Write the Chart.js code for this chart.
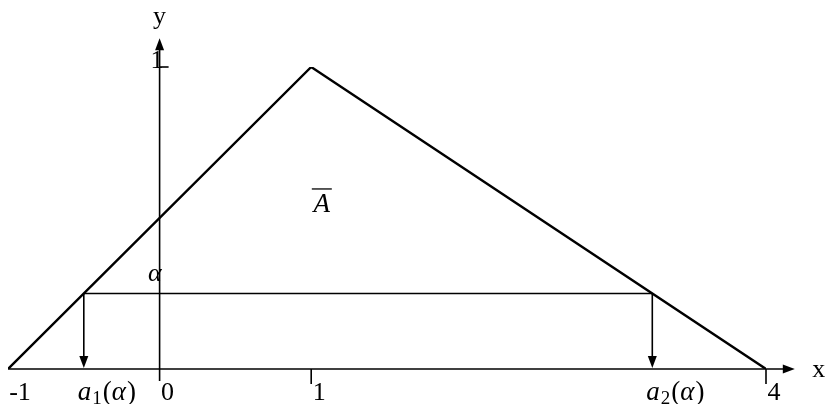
<!DOCTYPE html>
<html>
<head>
  <meta charset="utf-8">
  <title>Triangular fuzzy number and its alpha-cut</title>
  <script src="https://cdn.jsdelivr.net/npm/chart.js"></script>
  <style>
    body { margin: 0; background: #fff; }
    .chart-container { width: 825px; height: 404px; }
  </style>
</head>
<body>
  <div class="chart-container">
    <canvas id="fuzzyChart"></canvas>
  </div>

  <script>
    // ----- Membership function of A: triangle (-1,0) -> (1,1) -> (4,0) -----
    const triX = [-1, 1, 4];
    const triY = [0, 1, 0];

    // alpha level and the cut endpoints a1(alpha), a2(alpha)
    const alpha = 0.25;
    const cutX = [-0.5, 3.25];

    // tick labels on the axes
    const xTicks = [-1, 0, 1, 4];
    const xTickLabels = ["-1", "0", "1", "4"];
    const yTicks = [1];
    const yTickLabels = ["1"];

    // axis extents (arrow tips)
    const xAxisEnd = 4.19;
    const yAxisTop = 1.095;
    const yAxisBottom = -0.04;

    const serif = '"Liberation Serif", "DejaVu Serif", serif';

    function arrowHead(ctx, x, y, dir, len, half) {
      ctx.beginPath();
      if (dir === "right") {
        ctx.moveTo(x, y); ctx.lineTo(x - len, y - half); ctx.lineTo(x - len, y + half);
      } else if (dir === "up") {
        ctx.moveTo(x, y); ctx.lineTo(x - half, y + len); ctx.lineTo(x + half, y + len);
      } else {
        ctx.moveTo(x, y); ctx.lineTo(x - half, y - len); ctx.lineTo(x + half, y - len);
      }
      ctx.closePath();
      ctx.fill();
    }

    // draws a_i(alpha) with a subscript, starting at x
    function cutLabel(ctx, x, y, idx) {
      ctx.textAlign = "left";
      ctx.textBaseline = "alphabetic";
      ctx.font = "italic 27px " + serif;
      ctx.fillText("a", x, y);
      x += ctx.measureText("a").width + 1;
      ctx.font = "19px " + serif;
      ctx.fillText(String(idx), x, y + 4);
      x += ctx.measureText(String(idx)).width + 1;
      ctx.font = "27px " + serif;
      ctx.fillText("(", x, y);
      x += ctx.measureText("(").width;
      ctx.font = "italic 27px " + serif;
      ctx.fillText("\u03b1", x, y);
      x += ctx.measureText("\u03b1").width + 1;
      ctx.font = "27px " + serif;
      ctx.fillText(")", x, y);
    }

    const axesPlugin = {
      id: "axesPlugin",
      afterDraw(chart) {
        const ctx = chart.ctx;
        const xs = chart.scales.x, ys = chart.scales.y;
        const px = v => xs.getPixelForValue(v);
        const py = v => ys.getPixelForValue(v);
        ctx.save();
        ctx.strokeStyle = "#000";
        ctx.fillStyle = "#000";
        ctx.lineWidth = 1.6;

        // x axis
        ctx.beginPath();
        ctx.moveTo(px(-1), py(0));
        ctx.lineTo(px(xAxisEnd) - 6, py(0));
        ctx.stroke();
        arrowHead(ctx, px(xAxisEnd), py(0), "right", 12, 4.5);

        // y axis
        ctx.beginPath();
        ctx.moveTo(px(0), py(yAxisBottom));
        ctx.lineTo(px(0), py(yAxisTop) + 6);
        ctx.stroke();
        arrowHead(ctx, px(0), py(yAxisTop), "up", 12, 4.5);

        // tick marks
        [1, 4].forEach(v => {
          ctx.beginPath();
          ctx.moveTo(px(v), py(0));
          ctx.lineTo(px(v), py(0) + 15);
          ctx.stroke();
        });
        yTicks.forEach(v => {
          ctx.beginPath();
          ctx.moveTo(px(0), py(v));
          ctx.lineTo(px(0) + 9, py(v));
          ctx.stroke();
        });

        // tick labels
        ctx.font = "26px " + serif;
        ctx.textBaseline = "alphabetic";
        ctx.textAlign = "center";
        xTicks.forEach((v, i) => {
          const off = v === -1 ? 12 : 8;
          ctx.fillText(xTickLabels[i], px(v) + off, py(0) + 31);
        });
        ctx.textAlign = "right";
        yTicks.forEach((v, i) => {
          ctx.fillText(yTickLabels[i], px(0) + 4, py(v) + 1);
        });

        // axis names
        ctx.font = "26px " + serif;
        ctx.textAlign = "center";
        ctx.fillText("x", px(xAxisEnd) + 24, py(0) + 8);
        ctx.fillText("y", px(0), 24);

        // down arrows from the alpha-cut to the x axis
        cutX.forEach(v => {
          arrowHead(ctx, px(v), py(0) - 1, "down", 12, 4.5);
        });

        // alpha-cut endpoint labels
        cutLabel(ctx, px(cutX[0]) - 6, py(0) + 31, 1);
        cutLabel(ctx, px(cutX[1]) - 6, py(0) + 31, 2);

        // alpha on the y axis
        ctx.font = "italic 26px " + serif;
        ctx.textAlign = "right";
        ctx.fillText("\u03b1", px(0) + 2, py(alpha) - 13);

        // A with overline
        ctx.textAlign = "center";
        ctx.font = "italic 27px " + serif;
        const ax = px(1.07), ay = py(0.52);
        ctx.fillText("A", ax, ay);
        ctx.lineWidth = 1.3;
        ctx.beginPath();
        ctx.moveTo(ax - 10, ay - 23);
        ctx.lineTo(ax + 10, ay - 23);
        ctx.stroke();

        ctx.restore();
      }
    };

    const ctxFuzzy = document.getElementById("fuzzyChart").getContext("2d");
    new Chart(ctxFuzzy, {
      type: "scatter",
      data: {
        datasets: [
          {
            // membership triangle
            data: triX.map((x, i) => ({ x: x, y: triY[i] })),
            showLine: true,
            borderColor: "#000",
            borderWidth: 2.4,
            pointRadius: 0,
            tension: 0
          },
          {
            // horizontal alpha-cut
            data: cutX.map(x => ({ x: x, y: alpha })),
            showLine: true,
            borderColor: "#000",
            borderWidth: 1.6,
            pointRadius: 0
          },
          {
            // left drop line
            data: [{ x: cutX[0], y: alpha }, { x: cutX[0], y: 0.03 }],
            showLine: true,
            borderColor: "#000",
            borderWidth: 1.6,
            pointRadius: 0
          },
          {
            // right drop line
            data: [{ x: cutX[1], y: alpha }, { x: cutX[1], y: 0.03 }],
            showLine: true,
            borderColor: "#000",
            borderWidth: 1.6,
            pointRadius: 0
          }
        ]
      },
      options: {
        responsive: true,
        maintainAspectRatio: false,
        animation: false,
        layout: { padding: { left: 8, right: 59, top: 67, bottom: 35 } },
        scales: {
          x: { type: "linear", min: -1, max: 4, display: false },
          y: { type: "linear", min: 0, max: 1, display: false }
        },
        plugins: {
          legend: { display: false },
          tooltip: { enabled: false }
        }
      },
      plugins: [axesPlugin]
    });
  </script>
</body>
</html>
